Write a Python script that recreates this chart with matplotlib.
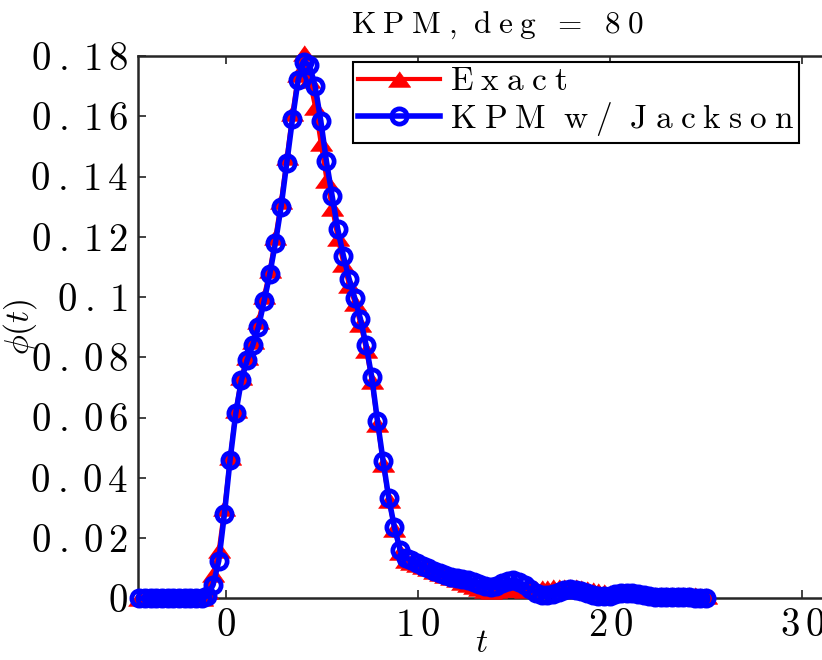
import matplotlib
matplotlib.use("Agg")
import matplotlib.pyplot as plt
from matplotlib.ticker import FuncFormatter, FixedLocator

plt.rcParams['mathtext.fontset'] = 'cm'
plt.rcParams['font.family'] = 'serif'
plt.rcParams['font.serif'] = ['cmr10', 'DejaVu Serif']

# sample points in t
t = [-4.5, -4.205, -3.91, -3.615, -3.32, -3.025, -2.73, -2.435, -2.14, -1.845,
     -1.55, -1.255, -0.96, -0.665, -0.37, -0.075, 0.22, 0.515, 0.81, 1.105,
     1.4, 1.695, 1.99, 2.285, 2.58, 2.875, 3.17, 3.465, 3.76, 4.055,
     4.35, 4.645, 4.94, 5.235, 5.53, 5.825, 6.12, 6.415, 6.71, 7.005,
     7.3, 7.595, 7.89, 8.185, 8.48, 8.775, 9.07, 9.365, 9.66, 9.955,
     10.25, 10.545, 10.84, 11.135, 11.43, 11.725, 12.02, 12.315, 12.61, 12.905,
     13.2, 13.495, 13.79, 14.085, 14.38, 14.675, 14.97, 15.265, 15.56, 15.855,
     16.15, 16.445, 16.74, 17.035, 17.33, 17.625, 17.92, 18.215, 18.51, 18.805,
     19.1, 19.395, 19.69, 19.985, 20.28, 20.575, 20.87, 21.165, 21.46, 21.755,
     22.05, 22.345, 22.64, 22.935, 23.23, 23.525, 23.82, 24.115, 24.41, 24.705,
     25.0]

# exact phi(t)
exact = [0, 0, 0, 0, 0, 0, 0, 0, 0, 0,
         0, 0, 0.0025, 0.008, 0.016, 0.030, 0.047, 0.0625, 0.0735, 0.080,
         0.0855, 0.092, 0.1005, 0.109, 0.120, 0.132, 0.1465, 0.161, 0.174, 0.181,
         0.172, 0.163, 0.151, 0.139, 0.1295, 0.1195, 0.111, 0.104, 0.098, 0.091,
         0.0825, 0.072, 0.058, 0.0445, 0.0325, 0.023, 0.0155, 0.0128, 0.0120, 0.0113,
         0.0106, 0.0099, 0.0091, 0.0083, 0.0076, 0.0070, 0.0063, 0.0055, 0.0047, 0.0040,
         0.0033, 0.0028, 0.0025, 0.0026, 0.0030, 0.0034, 0.0034, 0.0031, 0.0029, 0.0030,
         0.0032, 0.0034, 0.0035, 0.0036, 0.0037, 0.0038, 0.0038, 0.0037, 0.0035, 0.0032,
         0.0028, 0.0024, 0.0020, 0.0017, 0.0015, 0.0014, 0.0014, 0.0014, 0.0013, 0.0013,
         0.0012, 0.0012, 0.0012, 0.0011, 0.0011, 0.0011, 0.0010, 0.0010, 0.0010, 0.0009,
         0.0009]

# KPM approximation with Jackson damping
kpm = [0, 0, 0, 0, 0, 0, 0, 0, 0, 0,
       0, 0, 0.0008, 0.0045, 0.0124, 0.028, 0.046, 0.0614, 0.0724, 0.079,
       0.084, 0.090, 0.0986, 0.1076, 0.118, 0.130, 0.1445, 0.159, 0.172, 0.178,
       0.177, 0.170, 0.1585, 0.145, 0.1336, 0.1225, 0.1136, 0.106, 0.0996, 0.0927,
       0.084, 0.0734, 0.059, 0.0456, 0.0332, 0.0236, 0.016, 0.0135, 0.0126, 0.0117,
       0.0108, 0.0099, 0.0090, 0.0083, 0.0077, 0.0072, 0.0068, 0.0064, 0.0060, 0.0055,
       0.0048, 0.0041, 0.0037, 0.0040, 0.0050, 0.0058, 0.0060, 0.0054, 0.0043, 0.0030,
       0.0019, 0.0012, 0.0011, 0.0015, 0.0021, 0.0027, 0.0030, 0.0029, 0.0024, 0.0016,
       0.0010, 0.0006, 0.0006, 0.0009, 0.0014, 0.0018, 0.0019, 0.0018, 0.0014, 0.0010,
       0.0006, 0.0004, 0.0003, 0.0003, 0.0004, 0.0004, 0.0003, 0.0003, 0.0002, 0.0002,
       0.0002]

xticks = [0, 10, 20, 30]
yticks = [0, 0.02, 0.04, 0.06, 0.08, 0.1, 0.12, 0.14, 0.16, 0.18]


def spaced(s, gap=r'\;', dotgap=None):
    """mathtext with extra letter spacing, like the matlab rendering"""
    if dotgap is None:
        dotgap = gap
    out = []
    for w in s.split(' '):
        parts = ''
        for i, c in enumerate(w):
            if i > 0:
                parts += dotgap if (c == '.' or w[i - 1] == '.') else gap
            parts += r'\mathrm{%s}' % c
        out.append(parts)
    return '$' + (r'\ ' + gap).join(out) + '$'


fig = plt.figure(figsize=(8.22, 6.6), dpi=100)
# axes run past the right edge of the figure, as in the original crop
ax = fig.add_axes([137.5 / 822, 61.7 / 660, (856 - 137.5) / 822, 542.3 / 660])

tri = [(-1, -0.7), (1, -0.7), (0, 0.7)]
ax.plot(t, exact, color='#ff0000', lw=3, marker=tri, ms=16, mfc='#ff0000',
        mec='#ff0000', mew=0.5, label=spaced('Exact'), clip_on=False, zorder=3)
ax.plot(t, kpm, color='#0000ff', lw=4, marker='o', ms=11, mfc='none',
        mec='#0000ff', mew=3.4, label=spaced('KPM w/ Jackson'), clip_on=False,
        zorder=4)

ax.set_xlim(-4.6, 32.8)
ax.set_ylim(0, 0.18)
ax.xaxis.set_major_locator(FixedLocator(xticks))
ax.yaxis.set_major_locator(FixedLocator(yticks))
ax.xaxis.set_major_formatter(FuncFormatter(lambda v, p: spaced('%g' % v, r'\,')))
ax.yaxis.set_major_formatter(
    FuncFormatter(lambda v, p: spaced('%g' % v, r'\,', r'\:')))
ax.tick_params(direction='in', length=6, width=1.2, top=True, right=True,
               labelsize=28, pad=7, colors='#222222', labelcolor='black')
for sp in ax.spines.values():
    sp.set_linewidth(1.8)
    sp.set_color('#262626')

ax.set_ylabel(r'$\phi(t)$', fontsize=24)
ax.yaxis.set_label_coords((39 - 137.5) / (856 - 137.5), 0.5)
fig.text(482 / 822, 1 - 643 / 660, r'$t$', fontsize=24, ha='center',
         va='center')

fig.text(497 / 822, 1 - 33 / 660, spaced('KPM, deg = 80'), fontsize=22.5,
         ha='center', va='baseline')

leg = ax.legend(loc='upper left', bbox_to_anchor=(353 / 822, 1 - 62 / 660),
                bbox_transform=fig.transFigure, borderaxespad=0, fontsize=24,
                numpoints=1, handlelength=2.45, handletextpad=0.3,
                borderpad=0.15, labelspacing=0.1, fancybox=False,
                framealpha=1, edgecolor='black')
leg.get_frame().set_linewidth(1.5)

fig.savefig('out.png', dpi=100)
